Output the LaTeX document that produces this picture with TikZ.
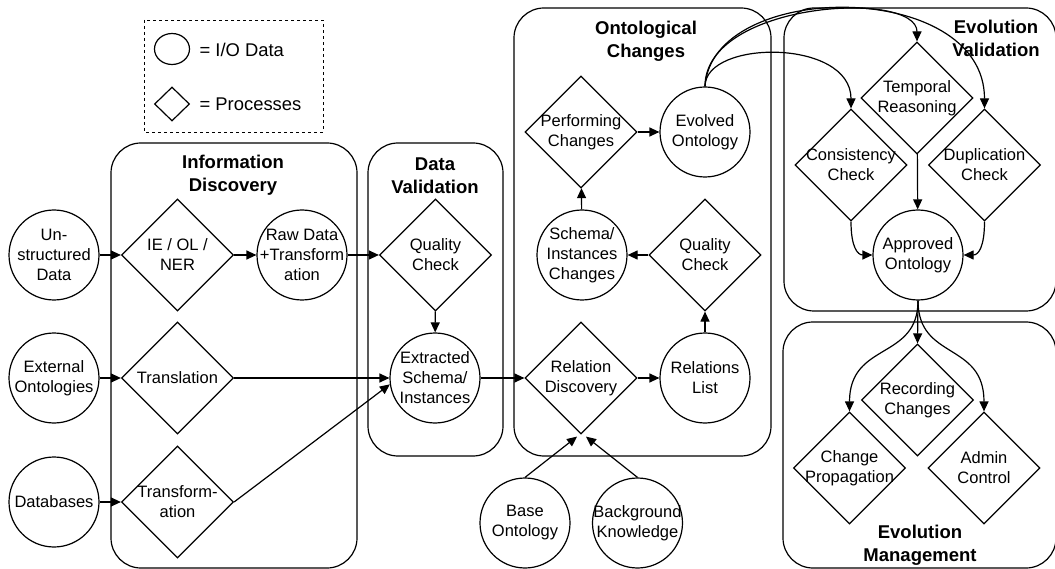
\documentclass[tikz,border=0pt]{standalone}
\usepackage{fontspec}
\setmainfont{Liberation Sans}
\usepackage{tikz}
\usetikzlibrary{arrows.meta, shapes.geometric}

\begin{document}
\begin{tikzpicture}[x=1pt, y=-1pt, line width=1.2pt,
    io/.style={draw, circle, minimum size=90pt, inner sep=0pt},
    proc/.style={draw, diamond, minimum width=112pt, minimum height=112pt, inner sep=0pt},
    lbl/.style={align=center, inner sep=0pt, font=\fontsize{16.5}{20}\selectfont},
    ttl/.style={align=center, inner sep=0pt, font=\bfseries\fontsize{18.5}{23}\selectfont},
    grp/.style={draw, rounded corners=30pt},
    arr/.style={-{Triangle[length=10pt, width=9pt]}}]
    \useasboundingbox (0,0) rectangle (1055,569);

    \draw[dashed, line width=0.9pt] (144,20) rectangle (323,132);
    \node[draw, ellipse, minimum width=35pt, minimum height=31pt, inner sep=0pt] (legio) at (172,49) {};
    \node[draw, diamond, minimum width=35pt, minimum height=34pt, inner sep=0pt] (legproc) at (172,104) {};
    \node[anchor=west, inner sep=0pt, font=\fontsize{18.4}{22}\selectfont] (legiot) at (199,50) {= I/O Data};
    \node[anchor=west, inner sep=0pt, font=\fontsize{18.4}{22}\selectfont] (legproct) at (199,104) {= Processes};

    \draw[grp] (111,143) rectangle (357,568);
    \draw[grp] (368,143) rectangle (503,456);
    \draw[grp] (514,8) rectangle (771,456);
    \draw[grp] (784,8) rectangle (1056,311);
    \draw[grp] (783,322) rectangle (1056,568);
    \node[ttl] (tinfo) at (233,175.5) {Information\\Discovery};
    \node[ttl] (tdv) at (435,175.5) {Data\\Validation};
    \node[ttl] (toc) at (646,41) {Ontological\\Changes};
    \node[ttl] (tev) at (996,38.5) {Evolution\\Validation};
    \node[ttl] (tem) at (920,545) {Evolution\\Management};

    \node[io, label={[lbl]center:Un-\\structured\\Data}] (unstr) at (54,255) {};
    \node[io, label={[lbl]center:External\\Ontologies}] (ext) at (54,378) {};
    \node[io, label={[lbl]center:Databases}] (dbs) at (54,502) {};
    \node[proc, label={[lbl]center:IE / OL /\\NER}] (ie) at (177.5,255) {};
    \node[proc, label={[lbl]center:Translation}] (trl) at (177.5,378) {};
    \node[proc, label={[lbl]center:Transform-\\ation}] (trf) at (177.5,502) {};
    \node[io, label={[lbl]center:Raw Data\\+Transform\\ation}] (raw) at (302,255) {};
    \node[proc, label={[lbl]center:Quality\\Check}] (qdv) at (435.5,255) {};
    \node[io, label={[lbl]center:Extracted\\Schema/\\Instances}] (extr) at (435,378) {};

    \node[proc, label={[lbl]center:Relation\\Discovery}] (rd) at (581,378) {};
    \node[io, label={[lbl]center:Relations\\List}] (rl) at (705,378) {};
    \node[proc, label={[lbl]center:Quality\\Check}] (qoc) at (705,255) {};
    \node[io, label={[lbl]center:Schema/\\Instances\\Changes}] (sic) at (582,255) {};
    \node[proc, label={[lbl]center:Performing\\Changes}] (pc) at (581,132) {};
    \node[io, label={[lbl]center:Evolved\\Ontology}] (evo) at (705,132) {};
    \node[io, label={[lbl]center:Base\\Ontology}] (base) at (525,523) {};
    \node[io, label={[lbl]center:Background\\Knowledge}] (bgk) at (637.5,523) {};

    \node[proc, label={[lbl]center:Temporal\\Reasoning}] (tr) at (917,98) {};
    \node[proc, label={[lbl]center:Consistency\\Check}] (cc) at (851,165) {};
    \node[proc, label={[lbl]center:Duplication\\Check}] (dc) at (984.5,165) {};
    \node[io, label={[lbl]center:Approved\\Ontology}] (ao) at (918,255) {};
    \node[proc, label={[lbl]center:Recording\\Changes}] (rec) at (917.5,400) {};
    \node[proc, label={[lbl]center:Change\\Propagation}] (cp) at (849.5,468) {};
    \node[proc, label={[lbl]center:Admin\\Control}] (ac) at (984,468) {};

    \draw[arr] (unstr) -- (ie);
    \draw[arr] (ie) -- (raw);
    \draw[arr] (raw) -- (qdv);
    \draw[arr] (qdv) -- (extr);
    \draw[arr] (ext) -- (trl);
    \draw[arr] (trl) -- (extr);
    \draw[arr] (dbs) -- (trf);
    \draw[arr] (trf.east) -- (extr.188);
    \draw[arr] (extr) -- (rd);
    \draw[arr] (rd) -- (rl);
    \draw[arr] (rl) -- (qoc);
    \draw[arr] (qoc) -- (sic);
    \draw[arr] (sic) -- (pc);
    \draw[arr] (pc) -- (evo);
    \draw[arr] (base.north) -- ([xshift=-4pt, yshift=-2pt]rd.south);
    \draw[arr] (bgk.north) -- ([xshift=5pt, yshift=-2pt]rd.south);
    \draw[arr] (evo.north) .. controls +(0,-47) and +(0,-70) .. (cc.north);
    \draw[arr] (evo.north) .. controls +(0,-85) and +(0,-52) .. (tr.north);
    \draw[arr] (evo.north) .. controls +(7,-107) and +(0,-130) .. (dc.north);
    \draw[arr] (tr) -- (ao);
    \draw[arr] (cc.south) .. controls +(0,25) and +(-15,0) .. (ao.west);
    \draw[arr] (dc.south) .. controls +(0,25) and +(15,0) .. (ao.east);
    \draw[arr] (ao.south) -- (rec.north);
    \draw[arr] (ao.south) .. controls +(0,60) and +(0,-70) .. (cp.north);
    \draw[arr] (ao.south) .. controls +(0,60) and +(0,-70) .. (ac.north);
\end{tikzpicture}
\end{document}
